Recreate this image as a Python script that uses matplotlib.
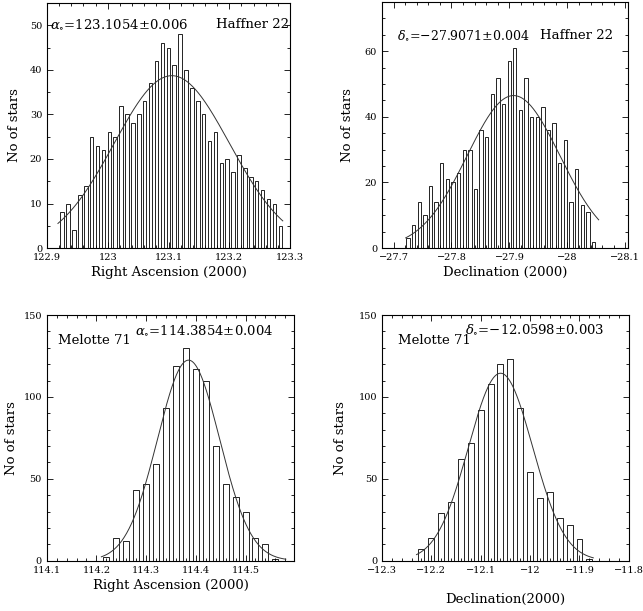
import numpy as np
import matplotlib.pyplot as plt
from matplotlib.ticker import MultipleLocator, FuncFormatter

plt.rcParams['font.family'] = 'DejaVu Serif'
plt.rcParams['mathtext.fontset'] = 'dejavuserif'

# Haffner 22, right ascension
ha_ra_start = 122.925
ha_ra_bin = 0.0097
ha_ra_counts = [8, 10, 4, 12, 14, 25, 23, 22, 26, 25, 32, 30, 28, 30, 33, 37, 42, 46, 45, 41,
                48, 40, 36, 33, 30, 24, 26, 19, 20, 17, 21, 18, 16, 15, 13, 11, 10, 5]
ha_ra_fit = [123.1054, 38.7, 0.095]      # centre, peak, sigma
ha_ra_fit_range = [122.918, 123.288]

# Haffner 22, declination
ha_dec_start = -27.725
ha_dec_bin = -0.0097
ha_dec_counts = [3, 7, 14, 10, 19, 14, 26, 21, 20, 23, 30, 30, 18, 36, 34, 47, 52, 44, 57, 61,
                 42, 52, 40, 40, 43, 36, 38, 26, 33, 14, 24, 13, 11, 2]
ha_dec_fit = [-27.9071, 46.5, 0.080]
ha_dec_fit_range = [-27.721, -28.054]

# Melotte 71, right ascension
me_ra_start = 114.22
me_ra_bin = 0.02
me_ra_counts = [2, 14, 12, 43, 47, 59, 93, 119, 130, 117, 110, 70, 47, 39, 30, 14, 10, 1]
me_ra_fit = [114.3854, 122.5, 0.0625]
me_ra_fit_range = [114.21, 114.581]

# Melotte 71, declination
me_dec_start = -12.22
me_dec_bin = 0.02
me_dec_counts = [7, 14, 29, 36, 62, 72, 92, 108, 120, 123, 93, 54, 38, 42, 26, 22, 13, 1]
me_dec_fit = [-12.0598, 114.5, 0.065]
me_dec_fit_range = [-12.23, -11.872]


def draw(ax, start, step, counts, fit, fit_range):
    centres = start + step * np.arange(len(counts))
    ax.bar(centres, counts, width=abs(step) * 0.6, color='white',
           edgecolor='black', linewidth=0.6)
    xs = np.linspace(fit_range[0], fit_range[1], 300)
    ax.plot(xs, fit[1] * np.exp(-(xs - fit[0]) ** 2 / (2 * fit[2] ** 2)),
            color='#333333', linewidth=0.7)


def fmt(v, pos):
    s = '{:g}'.format(round(v, 4))
    return s.replace('-', '\u2212')


def style(ax, xmaj, xmin, ymaj, ymin):
    ax.xaxis.set_major_locator(MultipleLocator(xmaj))
    ax.xaxis.set_minor_locator(MultipleLocator(xmin))
    ax.yaxis.set_major_locator(MultipleLocator(ymaj))
    ax.yaxis.set_minor_locator(MultipleLocator(ymin))
    ax.xaxis.set_major_formatter(FuncFormatter(fmt))
    ax.yaxis.set_major_formatter(FuncFormatter(fmt))
    ax.tick_params(which='both', direction='in', top=True, right=True,
                   labelsize=7, width=0.6)
    ax.tick_params(which='major', length=4)
    ax.tick_params(which='minor', length=2)
    for s in ax.spines.values():
        s.set_linewidth(0.8)


fig = plt.figure(figsize=(6.43, 6.11), dpi=100)

ax1 = fig.add_axes([0.0731, 0.594, 0.378, 0.401])
draw(ax1, ha_ra_start, ha_ra_bin, ha_ra_counts, ha_ra_fit, ha_ra_fit_range)
ax1.set_xlim(122.9, 123.3)
ax1.set_ylim(0, 55)
style(ax1, 0.1, 0.02, 10, 5)
ax1.set_ylabel('No of stars', fontsize=9.5, labelpad=6)
ax1.set_xlabel('Right Ascension (2000)', fontsize=9.5, labelpad=3)
ax1.text(0.012, 0.914, r'$\alpha_{\circ}$=123.1054±0.006', transform=ax1.transAxes,
         fontsize=9.5, va='center', ha='left')
ax1.text(0.995, 0.914, 'Haffner 22', transform=ax1.transAxes,
         fontsize=9.5, va='center', ha='right')

ax2 = fig.add_axes([0.594, 0.594, 0.383, 0.4026])
draw(ax2, ha_dec_start, ha_dec_bin, ha_dec_counts, ha_dec_fit, ha_dec_fit_range)
ax2.set_xlim(-27.68, -28.105)
ax2.set_ylim(0, 75)
style(ax2, 0.1, 0.02, 20, 5)
ax2.set_ylabel('No of stars', fontsize=9.5, labelpad=8)
ax2.set_xlabel('Declination (2000)', fontsize=9.5, labelpad=3)
ax2.text(0.06, 0.866, r'$\delta_{\circ}$=−27.9071±0.004', transform=ax2.transAxes,
         fontsize=9, va='center', ha='left')
ax2.text(0.94, 0.866, 'Haffner 22', transform=ax2.transAxes,
         fontsize=9.5, va='center', ha='right')

ax3 = fig.add_axes([0.0726, 0.0823, 0.385, 0.402])
draw(ax3, me_ra_start, me_ra_bin, me_ra_counts, me_ra_fit, me_ra_fit_range)
ax3.set_xlim(114.1, 114.598)
ax3.set_ylim(0, 150)
style(ax3, 0.1, 0.02, 50, 10)
ax3.set_ylabel('No of stars', fontsize=9.5, labelpad=4)
ax3.set_xlabel('Right Ascension (2000)', fontsize=9.5, labelpad=3)
ax3.text(0.046, 0.895, 'Melotte 71', transform=ax3.transAxes,
         fontsize=9.5, va='center', ha='left')
ax3.text(0.357, 0.939, r'$\alpha_{\circ}$=114.3854±0.004', transform=ax3.transAxes,
         fontsize=9.5, va='center', ha='left')

ax4 = fig.add_axes([0.594, 0.0823, 0.384, 0.402])
draw(ax4, me_dec_start, me_dec_bin, me_dec_counts, me_dec_fit, me_dec_fit_range)
ax4.set_xlim(-12.3, -11.8)
ax4.set_ylim(0, 150)
style(ax4, 0.1, 0.02, 50, 10)
ax4.set_ylabel('No of stars', fontsize=9.5, labelpad=8)
ax4.set_xlabel('Declination(2000)', fontsize=9.5, labelpad=13)
ax4.text(0.065, 0.895, 'Melotte 71', transform=ax4.transAxes,
         fontsize=9.5, va='center', ha='left')
ax4.text(0.336, 0.943, r'$\delta_{\circ}$=−12.0598±0.003', transform=ax4.transAxes,
         fontsize=9.5, va='center', ha='left')

fig.savefig('out.png', dpi=100)
